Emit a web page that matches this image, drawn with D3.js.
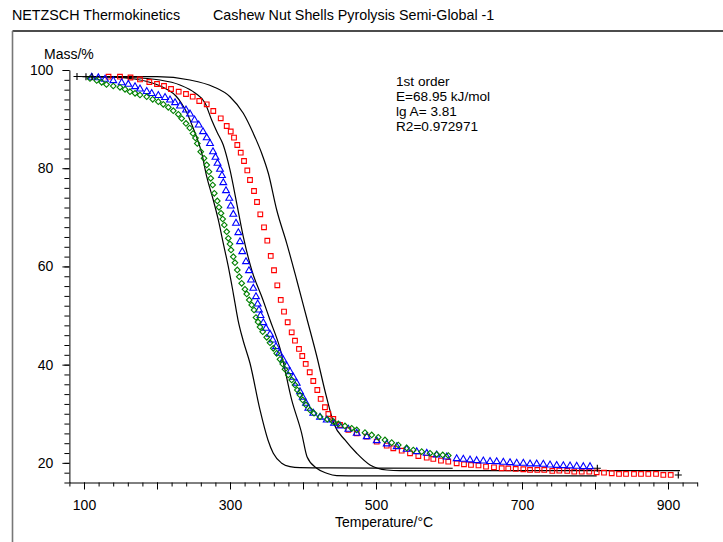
<!DOCTYPE html>
<html><head><meta charset="utf-8">
<script src="https://cdn.jsdelivr.net/npm/d3@7"></script>
<style>
html,body{margin:0;padding:0;background:#fff;}
svg{display:block;font-family:"Liberation Sans",Arial,sans-serif;}
</style></head>
<body>
<svg id="c" width="723" height="542"></svg>
<script>
// ---------- data ----------
const titleLeft = "NETZSCH Thermokinetics";
const titleRight = "Cashew Nut Shells Pyrolysis Semi-Global -1";
const xLabel = "Temperature/°C";
const yLabel = "Mass/%";
const legendLines = ["1st order", "E=68.95 kJ/mol", "lg A= 3.81", "R2=0.972971"];

const xTickLabels = [100, 300, 500, 700, 900];
const yTickLabels = [20, 40, 60, 80, 100];

const redT = [133.6,149.3,163.7,176.7,189.5,200.0,209.6,219.2,229.7,239.7,248.9,257.9,268.1,277.1,287.3,295.5,301.0,305.5,310.0,314.7,319.2,323.7,327.4,332.9,337.0,341.5,346.6,351.1,355.8,360.3,364.8,369.5,374.0,379.0,384.5,389.0,394.5,399.0,403.7,409.2,414.1,419.6,424.2,430.1,434.7,441.5,450.7,462.1,473.6,487.3,501.0,514.7,523.7,535.2,546.6,558.0,569.5,578.5,589.0,599.0,610.5,620.5,630.1,640.4,650.7,661.6,672.2,681.2,691.4,701.8,711.0,721.0,730.5,741.5,751.1,762.0,771.6,781.8,792.2,802.3,812.3,822.9,832.9,842.5,853.4,863.0,873.0,883.6,893.6,903.7];
const redM = [98.64,98.64,98.47,98.07,97.56,97.15,96.74,96.13,95.58,95.11,94.56,93.69,93.02,91.65,90.17,88.60,87.48,86.22,84.73,83.16,81.47,79.54,77.60,75.36,73.12,70.62,67.97,65.24,62.13,59.22,56.16,53.17,50.79,48.63,46.59,44.88,43.19,41.76,40.14,38.45,36.67,34.84,33.01,31.32,29.95,28.94,27.71,26.70,26.02,25.33,24.32,23.50,22.97,22.48,21.95,21.40,21.06,20.79,20.45,20.24,19.92,19.71,19.57,19.47,19.23,19.10,18.90,18.86,18.76,18.70,18.55,18.55,18.55,18.35,18.41,18.35,18.21,18.21,18.21,18.08,18.00,17.88,17.74,17.74,17.74,17.74,17.74,17.74,17.54,17.54];

const blueT = [110.5,119.6,128.8,140.1,151.6,160.7,169.9,176.7,185.9,192.7,201.8,211.0,217.8,224.7,231.5,239.7,245.2,251.4,257.1,263.0,268.1,272.6,276.7,280.1,282.9,286.3,289.0,290.8,294.5,299.0,301.0,304.5,308.2,311.4,313.7,316.8,321.9,326.0,328.8,331.9,335.6,337.9,339.7,341.8,345.6,349.3,354.8,358.5,363.0,367.5,373.0,377.7,382.2,386.7,391.4,395.9,399.6,404.1,407.3,414.1,423.3,432.5,442.5,450.7,462.1,473.6,487.3,501.0,514.7,528.4,542.0,555.8,569.5,583.1,596.8,610.5,619.6,628.8,637.9,647.0,656.2,665.3,674.4,683.6,692.7,701.8,711.0,720.1,729.2,738.4,747.5,756.6,765.8,774.9,784.0,793.2];
const blueM = [98.51,98.41,98.11,97.82,97.41,97.09,96.60,96.13,95.62,95.21,94.81,94.40,93.89,93.34,92.67,91.86,91.04,89.82,88.80,87.44,86.19,85.03,83.36,82.22,81.00,79.78,78.52,77.05,75.42,73.88,72.31,70.62,68.79,66.87,65.04,63.00,60.97,59.13,57.24,55.55,53.84,52.35,51.13,50.01,48.55,47.40,46.18,45.02,43.66,42.31,40.95,39.73,38.57,37.43,36.21,34.50,33.36,32.13,31.12,30.10,29.28,28.73,28.06,27.51,26.84,26.02,25.33,24.52,23.85,23.30,22.77,22.28,21.95,21.61,21.20,20.85,20.73,20.59,20.45,20.38,20.28,20.24,20.12,20.04,19.92,19.92,19.78,19.78,19.72,19.57,19.47,19.43,19.37,19.31,19.23,19.23];

const greenT = [108.2,117.4,124.2,130.8,140.1,149.3,156.2,163.0,169.9,176.7,185.9,194.1,201.8,208.6,215.5,222.3,229.2,233.8,239.7,244.8,249.3,252.7,255.2,259.9,264.4,268.1,271.2,273.6,276.3,278.5,282.6,284.9,287.7,290.0,292.2,295.5,297.7,300.0,301.4,304.5,306.8,310.0,312.7,316.0,320.5,322.9,326.4,329.7,332.9,335.6,338.4,341.1,344.8,350.3,354.8,359.3,364.0,368.5,372.2,375.3,379.9,384.5,389.0,392.2,395.9,399.6,404.1,409.6,415.1,423.3,433.3,441.5,448.4,457.5,466.7,473.6,484.9,494.1,503.1,512.3,521.5,530.5,542.0,551.1,562.6,574.0,583.1,591.4,599.0];
const greenM = [98.27,97.86,97.50,97.05,96.74,96.48,96.07,95.58,95.26,94.91,94.56,94.03,93.55,93.02,92.41,91.71,90.98,90.12,89.11,88.19,87.07,86.15,85.03,83.36,82.02,80.66,79.29,77.95,76.58,74.89,73.33,72.04,70.82,69.66,68.44,67.07,65.73,64.57,63.35,61.98,60.76,59.28,57.91,56.57,55.35,54.39,53.17,52.15,51.13,49.60,48.69,47.67,46.71,45.57,44.47,43.33,42.31,41.09,40.14,39.06,37.90,36.88,35.86,34.84,33.82,32.81,31.79,30.77,30.10,29.41,28.88,28.39,27.92,27.51,27.04,26.70,26.15,25.68,25.21,24.66,24.11,23.64,23.03,22.62,22.28,21.95,21.75,21.61,21.50];

const fitGreenT = [90.4,135.6,163.0,183.6,201.4,215.1,226.0,234.2,241.1,247.9,254.8,261.2,268.1,277.1,284.0,290.8,297.7,304.5,311.0,317.8,327.4,341.1,352.0,359.3,370.8,382.2,395.9,437.0,605.1];
const fitGreenM = [98.68,98.57,98.27,97.76,96.95,95.93,94.71,93.08,91.24,88.80,86.15,83.10,78.27,73.53,69.46,64.71,59.95,54.53,49.09,45.02,40.28,30.77,24.66,21.95,19.92,19.23,19.02,18.96,18.90];

const fitBlueT = [102.7,163.0,204.1,231.5,252.1,265.8,274.9,282.2,290.8,300.0,309.2,318.2,329.7,345.2,354.8,368.5,384.5,398.2,405.5,418.8,432.5,446.2,478.1,802.3];
const fitBlueM = [98.64,98.47,97.96,96.95,95.32,93.28,89.82,87.38,84.73,79.64,72.86,66.06,59.28,53.17,49.09,43.33,32.81,26.02,21.26,18.90,17.88,17.39,17.33,17.33];

const fitRedT = [111.0,200.0,245.2,277.1,300.0,318.2,331.9,343.4,352.5,364.0,377.7,391.4,405.1,418.8,431.5,442.5,457.5,473.6,491.8,514.7,532.9,916.4];
const fitRedM = [98.64,98.64,97.96,96.60,94.56,91.18,87.11,83.04,78.97,71.49,64.71,57.24,49.50,41.76,33.82,27.92,24.66,21.95,19.57,18.55,18.41,18.41];

const plusT = [90.4, 102.7, 111.0, 803.2, 914.1];
const plusM = [98.68, 98.64, 98.64, 18.90, 17.54];

// ---------- drawing ----------
const svg = d3.select("#c");
const x = d3.scaleLinear().domain([80, 940]).range([69.4, 697.2]);
const y = d3.scaleLinear().domain([16, 100]).range([482.5, 70]);
const zip = (a, b) => a.map((v, i) => [v, b[i]]);

// frame
svg.append("line").attr("x1", 12.5).attr("x2", 723).attr("y1", 31).attr("y2", 31)
  .attr("stroke", "#111").attr("stroke-width", 1.4);
svg.append("line").attr("x1", 12.5).attr("x2", 12.5).attr("y1", 31).attr("y2", 542)
  .attr("stroke", "#777").attr("stroke-width", 1.6);

// titles
svg.append("text").attr("x", 12).attr("y", 20).attr("font-size", 14.3).text(titleLeft);
svg.append("text").attr("x", 213).attr("y", 20).attr("font-size", 14.3).text(titleRight);

// axes
const yMinor = d3.range(16, 100.1, 2);
const xMinor = d3.range(80, 940.1, 20);
const xMajor = d3.range(100, 900.1, 100);

const gy = svg.append("g").attr("transform", `translate(${x(80)},0)`);
gy.call(d3.axisLeft(y).tickValues(yMinor).tickSize(5).tickSizeOuter(0).tickFormat(""));
const gy2 = svg.append("g").attr("transform", `translate(${x(80)},0)`);
gy2.call(d3.axisLeft(y).tickValues(yTickLabels).tickSize(7).tickSizeOuter(0).tickPadding(9));
gy2.select(".domain").remove();
gy2.selectAll("text").attr("font-size", 14).attr("font-family", "Liberation Sans, Arial, sans-serif").attr("fill", "#000");

const gx = svg.append("g").attr("transform", `translate(0,${y(16)})`);
gx.call(d3.axisBottom(x).tickValues(xMinor).tickSize(4).tickSizeOuter(0).tickFormat(""));
const gx2 = svg.append("g").attr("transform", `translate(0,${y(16)})`);
gx2.call(d3.axisBottom(x).tickValues(xMajor).tickSize(7).tickSizeOuter(0)
  .tickFormat(d => xTickLabels.includes(d) ? d : "").tickPadding(11));
gx2.select(".domain").remove();
gx2.selectAll("text").attr("font-size", 14).attr("font-family", "Liberation Sans, Arial, sans-serif").attr("fill", "#000");
svg.selectAll(".domain, .tick line").attr("stroke", "#000").attr("stroke-width", 1);

// axis titles
svg.append("text").attr("x", 44).attr("y", 59).attr("font-size", 14).text(yLabel);
svg.append("text").attr("x", 335).attr("y", 527).attr("font-size", 14).text(xLabel);

// legend text
svg.append("g").selectAll("text").data(legendLines).join("text")
  .attr("x", 396).attr("y", (d, i) => 86 + i * 15).attr("font-size", 13.6).text(d => d);

// fitted lines
const line = d3.line().x(d => x(d[0])).y(d => y(d[1])).curve(d3.curveMonotoneX);
[[fitGreenT, fitGreenM], [fitBlueT, fitBlueM], [fitRedT, fitRedM]].forEach(([t, m]) => {
  svg.append("path").datum(zip(t, m)).attr("d", line)
    .attr("fill", "none").attr("stroke", "#000").attr("stroke-width", 1.2);
});

// data symbols
function drawSymbols(t, m, type, size, color, rot) {
  svg.append("g").selectAll("path").data(zip(t, m)).join("path")
    .attr("d", d3.symbol().type(type).size(size))
    .attr("transform", d => `translate(${x(d[0])},${y(d[1])})` + (rot ? ` rotate(${rot})` : ""))
    .attr("fill", "none").attr("stroke", color).attr("stroke-width", 1.1);
}
drawSymbols(redT, redM, d3.symbolSquare, 22, "#ff0000", 0);
drawSymbols(blueT, blueM, d3.symbolTriangle, 20, "#0000ff", 0);
drawSymbols(greenT, greenM, d3.symbolSquare, 16, "#008000", 45);

// plus markers
svg.append("g").selectAll("path").data(zip(plusT, plusM)).join("path")
  .attr("d", "M-3.5,0H3.5M0,-3.5V3.5")
  .attr("transform", d => `translate(${x(d[0])},${y(d[1])})`)
  .attr("stroke", "#000").attr("stroke-width", 1.1).attr("fill", "none");
</script>
</body></html>
